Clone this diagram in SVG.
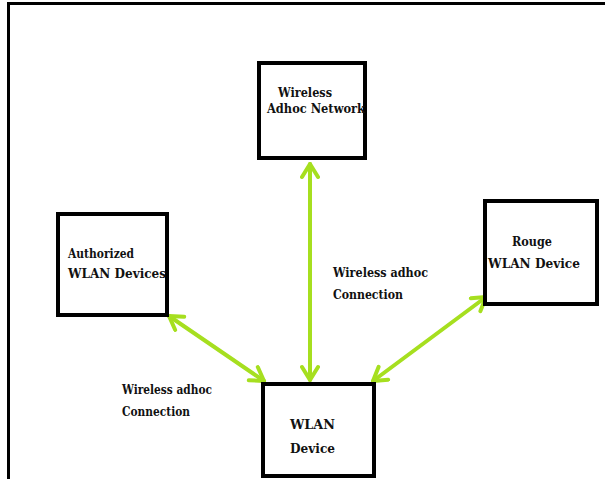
<svg xmlns="http://www.w3.org/2000/svg" width="605" height="479" viewBox="0 0 605 479">
<style>
.box{fill:#fff;stroke:#000;stroke-width:4}
.t{font-family:'DejaVu Serif',serif;font-weight:bold;font-size:13.5px;fill:#111}
.c{fill:none;stroke:#a6df1f;stroke-width:4;stroke-linecap:round}
</style>
<defs>
<marker id="ah" markerUnits="userSpaceOnUse" viewBox="-16 -10 20 20" refX="0" refY="0" markerWidth="20" markerHeight="20" orient="auto-start-reverse">
<path d="M -13 -8 L 0 0 L -13 8" fill="none" stroke="#a6df1f" stroke-width="4" stroke-linecap="round" stroke-linejoin="round"/>
</marker>
</defs>
<rect width="605" height="479" fill="#fff"/>
<g id="frame">
<line x1="7" y1="3.5" x2="605" y2="3.5" stroke="#000" stroke-width="3"/>
<line x1="8.5" y1="2" x2="8.5" y2="479" stroke="#000" stroke-width="3"/>
</g>
<g id="connectors">
<line class="c" x1="310" y1="164" x2="310" y2="380" marker-start="url(#ah)" marker-end="url(#ah)"/>
<line class="c" x1="169" y1="316" x2="264" y2="381" marker-start="url(#ah)" marker-end="url(#ah)"/>
<line class="c" x1="373" y1="381" x2="486" y2="297" marker-start="url(#ah)" marker-end="url(#ah)"/>
</g>
<g id="adhoc">
<rect class="box" x="259" y="63" width="106" height="95"/>
<text class="t" x="278" y="97" textLength="54" lengthAdjust="spacingAndGlyphs">Wireless</text>
<text class="t" x="267" y="113" textLength="98" lengthAdjust="spacingAndGlyphs">Adhoc Network</text>
</g>
<g id="authorized">
<rect class="box" x="58" y="214" width="109" height="101"/>
<text class="t" x="68" y="258" textLength="66" lengthAdjust="spacingAndGlyphs">Authorized</text>
<text class="t" x="68" y="278" textLength="98" lengthAdjust="spacingAndGlyphs">WLAN Devices</text>
</g>
<g id="rouge">
<rect class="box" x="485" y="201" width="112" height="103"/>
<text class="t" x="512" y="246" textLength="40" lengthAdjust="spacingAndGlyphs">Rouge</text>
<text class="t" x="488" y="268" textLength="92" lengthAdjust="spacingAndGlyphs">WLAN Device</text>
</g>
<g id="wlan">
<rect class="box" x="263" y="384" width="111" height="92"/>
<text class="t" x="290" y="429" textLength="45" lengthAdjust="spacingAndGlyphs">WLAN</text>
<text class="t" x="290" y="453" textLength="45" lengthAdjust="spacingAndGlyphs">Device</text>
</g>
<g id="labels">
<text class="t" x="122" y="394" textLength="90" lengthAdjust="spacingAndGlyphs">Wireless adhoc</text>
<text class="t" x="122" y="416" textLength="68" lengthAdjust="spacingAndGlyphs">Connection</text>
<text class="t" x="333" y="277" textLength="95" lengthAdjust="spacingAndGlyphs">Wireless adhoc</text>
<text class="t" x="333" y="299" textLength="70" lengthAdjust="spacingAndGlyphs">Connection</text>
</g>
</svg>
